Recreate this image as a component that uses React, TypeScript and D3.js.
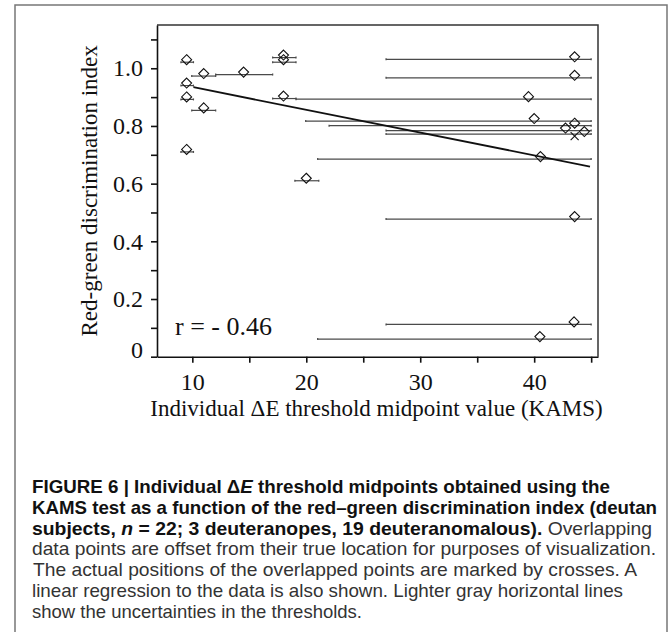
import React from "react";
import { select, scaleLinear, axisLeft, axisBottom, line } from "d3";

// threshold midpoints (KAMS, ΔE) and red-green index per subject
const thresholdMid = [9.5, 9.5, 9.5, 9.5, 11.0, 11.0, 14.5, 18.0, 18.0, 18.0, 20.0, 43.55, 43.55, 39.5, 40.0, 43.55, 42.75, 44.4, 40.55, 43.55, 43.5, 40.5];
const rgIndex = [1.021, 0.94, 0.892, 0.71, 0.973, 0.854, 0.978, 1.037, 1.021, 0.895, 0.61, 1.031, 0.967, 0.893, 0.817, 0.801, 0.784, 0.772, 0.685, 0.477, 0.112, 0.061];
const thresholdLow = [9.0, 9.0, 9.0, 9.0, 9.95, 9.95, 12.05, 17.05, 17.05, 17.05, 19.0, 27.0, 27.0, 19.1, 19.95, 22.0, 27.0, 27.0, 21.0, 27.0, 27.0, 21.0];
const thresholdHigh = [10.1, 10.1, 10.1, 10.1, 12.05, 12.05, 17.05, 19.1, 19.1, 19.1, 21.1, 45.0, 45.0, 45.0, 45.0, 45.0, 45.0, 45.0, 45.0, 45.0, 45.0, 45.0];

// true position of the overlapped points
const crossX = [43.55];
const crossY = [0.765];

// linear regression
const regSlope = -0.0079;
const regIntercept = 1.014;
const regFrom = 10.1;
const regTo = 44.9;

const xTicks = [10, 15, 20, 25, 30, 35, 40, 45];
const xTickLabels = ["10", "", "20", "", "30", "", "40", ""];
const yTicks = [0, 0.1, 0.2, 0.3, 0.4, 0.5, 0.6, 0.7, 0.8, 0.9, 1.0, 1.1];
const yTickLabels = ["0", "", "0.2", "", "0.4", "", "0.6", "", "0.8", "", "1.0", ""];

const captionLines = [
  [["FIGURE 6 | Individual Δ", "b"], ["E", "bi"], [" threshold midpoints obtained using the", "b"]],
  [["KAMS test as a function of the red–green discrimination index (deutan", "b"]],
  [["subjects, ", "b"], ["n", "bi"], [" = 22; 3 deuteranopes, 19 deuteranomalous).", "b"], [" Overlapping", "r"]],
  [["data points are offset from their true location for purposes of visualization.", "r"]],
  [["The actual positions of the overlapped points are marked by crosses. A", "r"]],
  [["linear regression to the data is also shown. Lighter gray horizontal lines", "r"]],
  [["show the uncertainties in the thresholds.", "r"]],
];
const captionWidths = [578, 625, 620, 624, 604, 591, 330];

const W = 669;
const H = 632;
const margin = { top: 25, right: 71, bottom: 275, left: 157 };
const serif = "'Liberation Serif', 'Times New Roman', serif";
const sans = "'Liberation Sans Narrow', 'Liberation Sans', Arial, sans-serif";

export default function App() {
  const xAxisRef = React.useRef<SVGGElement>(null);
  const yAxisRef = React.useRef<SVGGElement>(null);

  const x = scaleLinear().domain([6.9, 45.6]).range([margin.left, W - margin.right]);
  const y = scaleLinear().domain([0, 1.15]).range([356.7, margin.top]);

  React.useEffect(() => {
    const gx = select(xAxisRef.current);
    gx.call(
      axisBottom(x)
        .tickValues(xTicks)
        .tickSize(6)
        .tickSizeOuter(0)
        .tickPadding(10)
        .tickFormat((d, i) => xTickLabels[i])
    );
    gx.attr("font-family", serif).attr("font-size", 24);
    gx.selectAll("path,line").attr("stroke", "#111").attr("stroke-width", 1.6);
    gx.selectAll("text").attr("fill", "#111");

    const gy = select(yAxisRef.current);
    gy.call(
      axisLeft(y)
        .tickValues(yTicks)
        .tickSize(6)
        .tickSizeOuter(0)
        .tickPadding(8)
        .tickFormat((d, i) => yTickLabels[i])
    );
    gy.attr("font-family", serif).attr("font-size", 24);
    gy.selectAll("path,line").attr("stroke", "#111").attr("stroke-width", 1.6);
    gy.selectAll("text")
      .attr("fill", "#111")
      .attr("y", (d) => (d === 0 ? -7 : 0));

    return () => {
      gx.selectAll("*").remove();
      gy.selectAll("*").remove();
    };
  }, []);

  const regLine = line<number>()
    .x((d) => x(d))
    .y((d) => y(regIntercept + regSlope * d));

  const x0 = x.range()[0];
  const x1 = x.range()[1];
  const yb = y.range()[0];
  const yt = y.range()[1];

  return (
    <svg width={W} height={H} style={{ display: "block", position: "absolute", left: 0, top: 0 }}>
      <rect x={0} y={0} width={W} height={H} fill="#fff" />
      {/* outer figure frame */}
      <path d={`M15,${H + 5} V5 H667 V${H + 5}`} fill="none" stroke="#777" strokeWidth={1.5} />

      {/* plot box (top and right) */}
      <path d={`M${x0},${yt} H${x1} V${yb}`} fill="none" stroke="#333" strokeWidth={1.5} />

      {/* uncertainty bars */}
      <g stroke="#4a4a4a" strokeWidth={1.2}>
        {rgIndex.map((v, i) => (
          <g key={i}>
            <line x1={x(thresholdLow[i])} x2={x(thresholdHigh[i])} y1={y(v)} y2={y(v)} />
            <line x1={x(thresholdLow[i])} x2={x(thresholdLow[i])} y1={y(v) - 1} y2={y(v) + 1} />
            <line x1={x(thresholdHigh[i])} x2={x(thresholdHigh[i])} y1={y(v) - 1} y2={y(v) + 1} />
          </g>
        ))}
      </g>

      {/* regression */}
      <path d={regLine([regFrom, regTo]) || ""} fill="none" stroke="#111" strokeWidth={1.8} />

      {/* diamonds */}
      <g fill="none" stroke="#111" strokeWidth={1.1}>
        {rgIndex.map((v, i) => {
          const cx = x(thresholdMid[i]);
          const cy = y(v) - 2.5;
          return <path key={i} d={`M${cx},${cy - 5} L${cx + 5},${cy} L${cx},${cy + 5} L${cx - 5},${cy} Z`} />;
        })}
        {crossX.map((cxv, i) => {
          const cx = x(cxv);
          const cy = y(crossY[i]);
          return <path key={"c" + i} d={`M${cx - 4},${cy - 4} L${cx + 4},${cy + 4} M${cx + 4},${cy - 4} L${cx - 4},${cy + 4}`} />;
        })}
      </g>

      <g ref={xAxisRef} transform={`translate(0,${yb})`} />
      <g ref={yAxisRef} transform={`translate(${x0},0)`} />

      <text x={175} y={335} fontFamily={serif} fontSize={26} fill="#111">r = - 0.46</text>

      <text x={(155 + 598) / 2} y={416} textAnchor="middle" fontFamily={serif} fontSize={23} fill="#111">
        Individual ΔE threshold midpoint value (KAMS)
      </text>
      <text
        transform={`translate(97,${(yt + yb) / 2}) rotate(-90)`}
        textAnchor="middle"
        fontFamily={serif}
        fontSize={23}
        fill="#111"
      >
        Red-green discrimination index
      </text>

      {/* caption */}
      <g fontFamily={sans} fontSize={18.5} fill="#1a1a1a">
        {captionLines.map((parts, i) => (
          <text
            key={i}
            x={i === 4 ? 33 : 32}
            y={493 + i * 20.8}
            textLength={captionWidths[i]}
            lengthAdjust="spacingAndGlyphs"
          >
            {parts.map(([t, s], j) => (
              <tspan
                key={j}
                fontWeight={s === "r" ? "normal" : "bold"}
                fontStyle={s === "bi" ? "italic" : "normal"}
                fill={s === "r" ? "#333" : "#111"}
              >
                {t}
              </tspan>
            ))}
          </text>
        ))}
      </g>
    </svg>
  );
}
